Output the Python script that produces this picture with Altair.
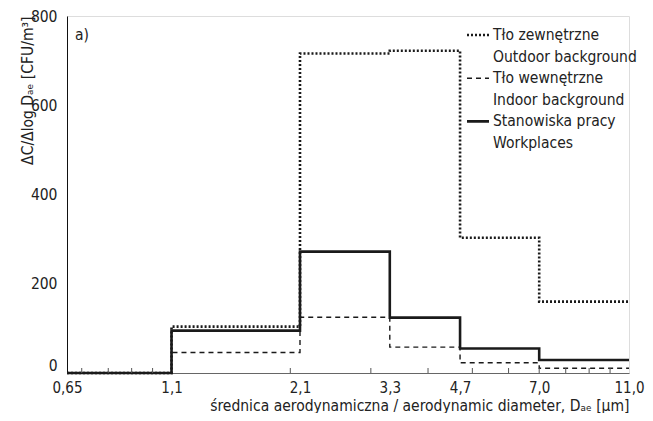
import altair as alt
import pandas as pd

# ---- data ----
edges = [0.65, 1.1, 2.1, 3.3, 4.7, 7.0, 11.0]
outdoor = [0, 104, 716, 722, 303, 160]
indoor = [0, 46, 125, 58, 23, 10.5]
workplaces = [0, 95, 272, 124, 55, 29]
minor_ticks = [0.7, 0.8, 0.9, 1, 2, 3, 4, 5, 6, 7, 8, 9, 10]
x_labels = [0.65, 1.1, 2.1, 3.3, 4.7, 7.0, 11.0]
y_ticks = [0, 200, 400, 600, 800]
legend_text = [
    ["Tło zewnętrzne", "Outdoor background"],
    ["Tło wewnętrzne", "Indoor background"],
    ["Stanowiska pracy", "Workplaces"],
]

FONT = "DejaVu Sans Condensed, Roboto, sans-serif"
W, H = 562, 357
FS = 15.5


def steps(values):
    xs = list(edges)
    ys = list(values) + [values[-1]]
    return pd.DataFrame({"x": xs, "y": ys})


xscale = alt.Scale(type="log", domain=[0.65, 11], nice=False)
yscale = alt.Scale(domain=[0, 800], nice=False)

label_expr = "datum.value == 0.65 ? '0,65' : replace(format(datum.value, '.1f'), '.', ',')"

x_axis = alt.Axis(
    values=x_labels, ticks=False, grid=False, labelExpr=label_expr,
    domainColor="#666", labelFont=FONT, labelFontSize=15, labelColor="#222",
    labelPadding=7, labelFlush=False,
    title="średnica aerodynamiczna / aerodynamic diameter, Dₐₑ [μm]",
    titleFont=FONT, titleFontSize=FS, titleFontWeight="normal", titleColor="#222",
    titleAnchor="end", titlePadding=3,
)
y_axis = alt.Axis(
    values=y_ticks, ticks=False, grid=False, domainColor="#111",
    labelFont=FONT, labelFontSize=FS, labelColor="#222", labelPadding=10,
    labelBaseline={"condition": {"test": "datum.value == 0", "value": "bottom"}, "value": "middle"},
    title="ΔC/Δlog Dₐₑ [CFU/m³]", titleFont=FONT, titleFontSize=FS,
    titleFontWeight="normal", titleColor="#222",
    titleAnchor="end", titleX=-40, titleBaseline="middle",
)

styles = [
    (outdoor, [2, 2], 2.6),
    (indoor, [5, 4], 1.4),
    (workplaces, [1, 0], 2.6),
]

layers = []
for i, (vals, dash, sw) in enumerate(styles):
    enc = dict(x=alt.X("x:Q", scale=xscale), y=alt.Y("y:Q", scale=yscale))
    if i == 0:
        enc = dict(x=alt.X("x:Q", scale=xscale, axis=x_axis),
                   y=alt.Y("y:Q", scale=yscale, axis=y_axis))
    layers.append(
        alt.Chart(steps(vals)).mark_line(
            interpolate="step-after", color="#1a1a1a", strokeDash=dash,
            strokeWidth=sw, strokeCap="butt",
        ).encode(**enc)
    )

# minor ticks pointing inward from the x axis
layers.append(
    alt.Chart(pd.DataFrame({"v": minor_ticks})).mark_rule(color="#555", strokeWidth=1).encode(
        x=alt.X("v:Q", scale=xscale), y=alt.value(H), y2=alt.value(H - 5)
    )
)

one = alt.Data(values=[{"a": 1}])

# panel label
layers.append(
    alt.Chart(one).mark_text(font=FONT, fontSize=FS, align="left", baseline="middle", color="#222")
    .encode(x=alt.value(8), y=alt.value(19), text=alt.value("a)"))
)

# manual legend
sym_x1, sym_x2, txt_x = 400, 422, 426
row0, row_gap = 19, 21.6
for i, (lines, (vals, dash, sw)) in enumerate(zip(legend_text, styles)):
    y1 = row0 + (2 * i) * row_gap
    layers.append(
        alt.Chart(one).mark_rule(color="#1a1a1a", strokeDash=dash, strokeWidth=sw, strokeCap="butt")
        .encode(x=alt.value(sym_x1), x2=alt.value(sym_x2), y=alt.value(y1))
    )
    for j, t in enumerate(lines):
        layers.append(
            alt.Chart(one).mark_text(font=FONT, fontSize=FS, align="left", baseline="middle", color="#222")
            .encode(x=alt.value(txt_x), y=alt.value(y1 + j * row_gap), text=alt.value(t))
        )

chart = alt.layer(*layers).properties(
    width=W, height=H,
    autosize=alt.AutoSizeParams(type="none"),
    padding={"left": 59, "top": 8, "right": 16, "bottom": 40},
).configure_view(stroke="#555", strokeWidth=1).configure(background="white")

chart.save("out.html", embed_options={"renderer": "svg", "actions": False})
